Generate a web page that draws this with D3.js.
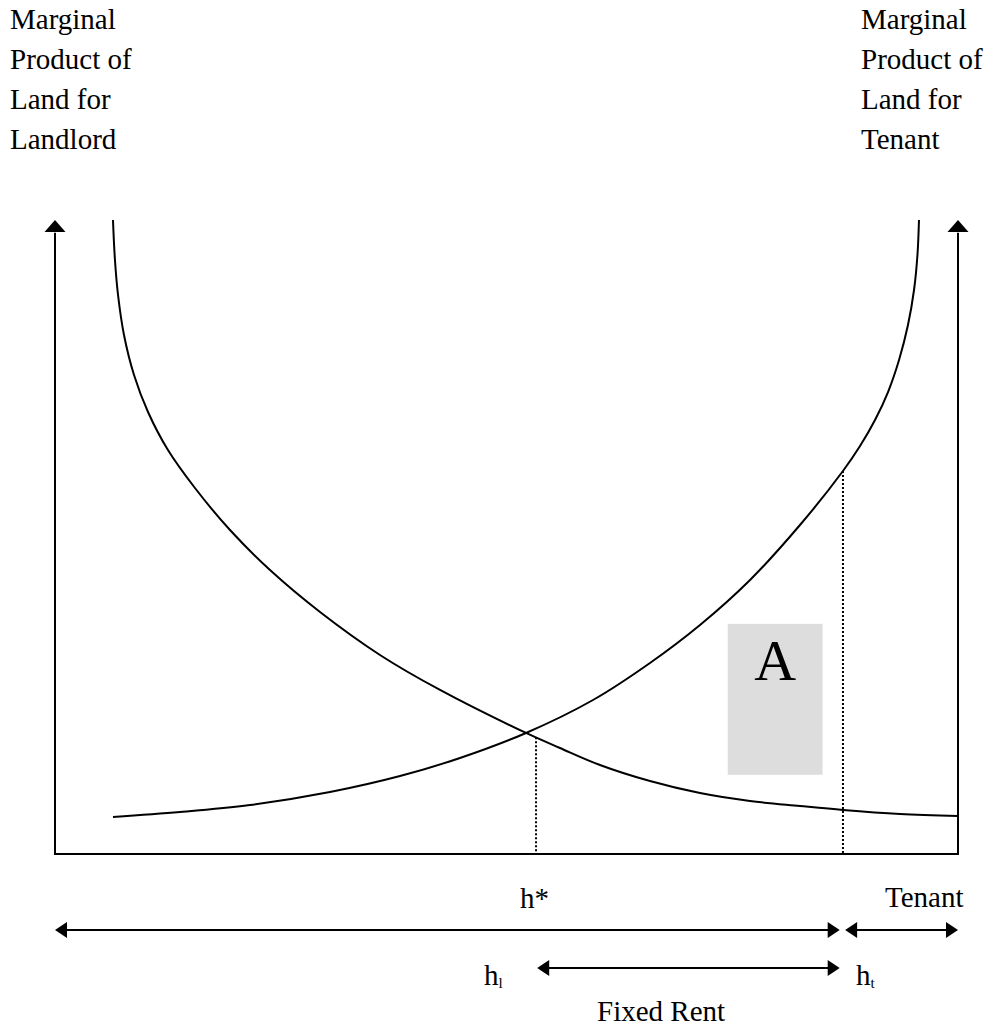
<!DOCTYPE html>
<html>
<head>
<meta charset="utf-8">
<script src="https://cdn.jsdelivr.net/npm/d3@7"></script>
<style>
  body { margin: 0; background: #fff; }
  text { font-family: "Liberation Serif", "Times New Roman", serif; fill: #000; }
</style>
</head>
<body>
<div id="svg_container"></div>
<script>
// data (land share on x, marginal product on y, both 0..100)
const landlordCurve = [
  [6.42, 100.0], [6.64, 93.69], [6.98, 88.17], [7.64, 81.86], [8.75, 75.55],
  [10.30, 69.72], [12.51, 63.72], [15.50, 57.73], [19.38, 51.10], [23.81, 44.79],
  [29.35, 38.17], [35.99, 31.39], [42.64, 25.87], [52.16, 19.09], [55.92, 16.72],
  [60.35, 14.04], [65.89, 11.51], [71.43, 9.62], [76.97, 8.36], [82.50, 7.57],
  [87.26, 6.94], [93.58, 6.31], [100.0, 5.99]
];
const tenantCurve = [
  [6.42, 5.84], [13.84, 6.62], [21.59, 7.73], [30.45, 9.78], [38.21, 12.30],
  [44.85, 15.14], [52.16, 19.09], [59.58, 24.29], [65.89, 30.13], [71.43, 36.12],
  [76.97, 43.22], [82.50, 51.89], [87.26, 60.41], [89.15, 64.35], [90.81, 68.45],
  [92.25, 72.87], [93.47, 77.92], [94.46, 83.44], [95.13, 88.96], [95.51, 94.48],
  [95.68, 100.0]
];
// dotted drop lines: h* and the tenant's share boundary
const dropLines = [[53.27, 18.4], [87.26, 60.41]];
// shaded area A
const areaA = [74.5, 85.0, 12.5, 36.3];

// labels
const leftTitle = ["Marginal", "Product of", "Land for", "Landlord"];
const rightTitle = ["Marginal", "Product of", "Land for", "Tenant"];

// bottom brackets [from, to] in land share
const landlordSpan = [0, 86.9];
const tenantSpan = [87.5, 100];
const fixedRentSpan = [53.4, 86.9];

// constants
const width = 995, height = 1032;
const fontSize = 29;

const svg = d3.select("#svg_container")
  .append("svg")
  .attr("width", width)
  .attr("height", height);

const x = d3.scaleLinear().domain([0, 100]).range([55, 958]);
const y = d3.scaleLinear().domain([0, 100]).range([854, 220]);

// shaded box
svg.append("rect")
  .attr("x", x(areaA[0]))
  .attr("y", y(areaA[3]))
  .attr("width", x(areaA[1]) - x(areaA[0]))
  .attr("height", y(areaA[2]) - y(areaA[3]))
  .attr("fill", "#dddddd");

svg.append("text")
  .attr("x", (x(areaA[0]) + x(areaA[1])) / 2)
  .attr("y", 680)
  .attr("text-anchor", "middle")
  .attr("font-size", 58)
  .text("A");

// axes: left, right and base line
const axisG = svg.append("g")
  .attr("stroke", "#000")
  .attr("stroke-width", 2)
  .attr("fill", "none");

axisG.append("path")
  .attr("d", `M${x(0)},${y(98)} V${y(0)} H${x(100)} V${y(98)}`);

function arrowHead(g, px, py, dir, len, half) {
  // dir: "up", "left", "right"
  let pts;
  if (dir === "up") pts = [[px, py], [px - half, py + len], [px + half, py + len]];
  else if (dir === "left") pts = [[px, py], [px + len, py - half], [px + len, py + half]];
  else pts = [[px, py], [px - len, py - half], [px - len, py + half]];
  g.append("path")
    .attr("d", "M" + pts.join("L") + "Z")
    .attr("fill", "#000")
    .attr("stroke", "none");
}

arrowHead(svg, x(0), y(100), "up", 12, 10.5);
arrowHead(svg, x(100), y(100), "up", 12, 10.5);

// curves
const line = d3.line()
  .x(d => x(d[0]))
  .y(d => y(d[1]))
  .curve(d3.curveCatmullRom.alpha(0.5));

svg.selectAll(".curve")
  .data([landlordCurve, tenantCurve])
  .join("path")
  .attr("class", "curve")
  .attr("d", line)
  .attr("fill", "none")
  .attr("stroke", "#000")
  .attr("stroke-width", 2);

// dotted drop lines
svg.selectAll(".drop")
  .data(dropLines)
  .join("line")
  .attr("class", "drop")
  .attr("x1", d => x(d[0]))
  .attr("x2", d => x(d[0]))
  .attr("y1", d => y(d[1]))
  .attr("y2", y(0))
  .attr("stroke", "#000")
  .attr("stroke-width", 2)
  .attr("stroke-dasharray", "2,2");

// corner titles
svg.append("text")
  .attr("font-size", fontSize)
  .selectAll("tspan")
  .data(leftTitle)
  .join("tspan")
  .attr("x", 10)
  .attr("y", (d, i) => 29 + i * 40)
  .text(d => d);

svg.append("text")
  .attr("font-size", fontSize)
  .selectAll("tspan")
  .data(rightTitle)
  .join("tspan")
  .attr("x", 861)
  .attr("y", (d, i) => 29 + i * 40)
  .text(d => d);

// bottom brackets
function bracket(span, py) {
  const g = svg.append("g");
  g.append("line")
    .attr("x1", x(span[0]) + 6)
    .attr("x2", x(span[1]) - 6)
    .attr("y1", py)
    .attr("y2", py)
    .attr("stroke", "#000")
    .attr("stroke-width", 2);
  arrowHead(g, x(span[0]), py, "left", 12, 8);
  arrowHead(g, x(span[1]), py, "right", 12, 8);
}

bracket(landlordSpan, 930);
bracket(tenantSpan, 930);
bracket(fixedRentSpan, 968);

svg.append("text")
  .attr("x", 520)
  .attr("y", 908)
  .attr("font-size", fontSize)
  .text("h*");

svg.append("text")
  .attr("x", 885)
  .attr("y", 907)
  .attr("font-size", fontSize)
  .text("Tenant");

// h with subscripts
const subLabels = [[484, "l"], [856, "t"]];
subLabels.forEach(d => {
  const t = svg.append("text")
    .attr("x", d[0])
    .attr("y", 985)
    .attr("font-size", fontSize);
  t.append("tspan").text("h");
  t.append("tspan")
    .attr("font-size", 15)
    .attr("dy", 3)
    .text(d[1]);
});

svg.append("text")
  .attr("x", 597)
  .attr("y", 1021)
  .attr("font-size", fontSize)
  .text("Fixed Rent");
</script>
</body>
</html>
